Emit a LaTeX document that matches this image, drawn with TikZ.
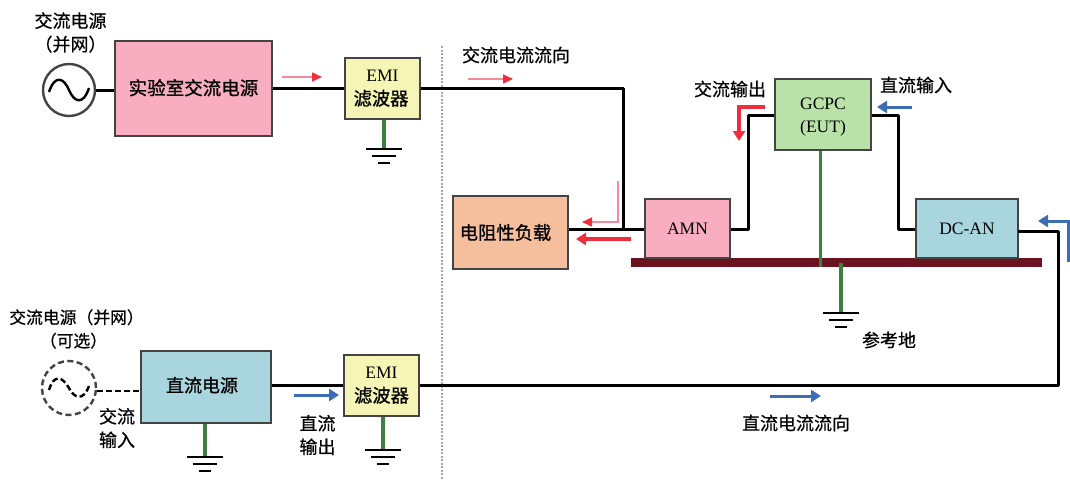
\documentclass[tikz,border=0pt]{standalone}
\usepackage{fontspec}
\setmainfont{Liberation Serif}
\newfontfamily\cjk[FakeBold=0.6]{Noto Sans CJK SC}
\newfontfamily\cjkb[FakeBold=1]{Noto Sans CJK SC}
\usetikzlibrary{arrows.meta}
\definecolor{cPink}{HTML}{F8AEC0}
\definecolor{cYel}{HTML}{F5F5B5}
\definecolor{cGreen}{HTML}{B9E2A8}
\definecolor{cTeal}{HTML}{A8D5DE}
\definecolor{cOrange}{HTML}{F5BE9C}
\definecolor{cPlate}{HTML}{6B1420}
\definecolor{cStem}{HTML}{3F8040}
\definecolor{cRed}{HTML}{EE2E3C}
\definecolor{cPinkLine}{HTML}{F48A9A}
\definecolor{cBlue}{HTML}{3D6DB5}
\definecolor{cEdge}{HTML}{444444}
\tikzset{
  blk/.style={draw=cEdge,line width=1.5pt,inner sep=0pt,align=center,font=\fontsize{17.5}{23.5}\selectfont},
  lbl/.style={inner sep=0pt,align=center,font=\cjk\fontsize{18}{23.5}\selectfont},
  wire/.style={line width=3pt,draw=black,line join=round},
  dwire/.style={line width=2.6pt,draw=black,dash pattern=on 6pt off 3pt},
  stem/.style={line width=3.8pt,draw=cStem},
  gline/.style={line width=1.8pt,draw=black},
  parr/.style={line width=1.6pt,draw=cPinkLine,-{Triangle[length=10pt,width=9pt,color=cRed]}},
  rarr/.style={line width=3.4pt,draw=cRed,line join=miter,-{Triangle[length=10pt,width=12pt]}},
  barr/.style={line width=3pt,draw=cBlue,line join=miter,-{Triangle[length=10pt,width=12pt]}},
  gnd/.pic={
    \draw[gline] (-18,0)--(18,0);
    \draw[gline] (-12,7)--(12,7);
    \draw[gline] (-6,14)--(6,14);
  },
  sinewave/.style={line width=2.4pt,draw=black},
}
\begin{document}
\begin{tikzpicture}[x=1pt,y=-1pt]
\useasboundingbox (0,0) rectangle (1070,479);
% divider
\coordinate (divT) at (442,46);
\coordinate (divB) at (442,479);
\draw[line width=2.2pt,draw=black!35,dash pattern=on 2pt off 1.5pt] (divT)--(divB);
% plate
\node[fill=cPlate,inner sep=0pt,minimum width=411pt,minimum height=9pt] (plate) at (836.5,262.5) {};
% blocks
\node[blk,circle,line width=2.4pt,minimum size=52pt] (ac1) at (69,90) {};
\node[blk,fill=cPink,minimum width=157pt,minimum height=95pt,font=\cjkb\fontsize{18.5}{20}\selectfont] (lab) at (193.5,88.5) {\raisebox{3pt}{实验室交流电源}};
\node[blk,fill=cYel,minimum width=75pt,minimum height=61pt] (emi1) at (382.5,88.5) {EMI\\{\cjkb\fontsize{18.3}{20}\selectfont 滤波器\kern3pt}};
\node[blk,fill=cOrange,minimum width=115pt,minimum height=73pt,font=\cjkb\fontsize{18.3}{20}\selectfont] (load) at (510.5,232.5) {\raisebox{-4pt}{电阻性负载}\kern10pt};
\node[blk,fill=cPink,minimum width=85pt,minimum height=59pt] (amn) at (687.5,228.5) {AMN};
\node[blk,fill=cGreen,minimum width=96pt,minimum height=71pt] (eut) at (823,114.5) {\raisebox{-3pt}[\height][\depth]{GCPC}\\\raisebox{-2pt}[\height][\depth]{(EUT)}};
\node[blk,fill=cTeal,minimum width=102pt,minimum height=59pt] (dcan) at (967,228.5) {\raisebox{-3pt}{DC-AN}};
\node[blk,circle,line width=2.4pt,dash pattern=on 6pt off 3.5pt,minimum size=54pt] (ac2) at (69,388) {};
\node[blk,fill=cTeal,minimum width=130pt,minimum height=72pt,font=\cjkb\fontsize{18}{20}\selectfont] (dcs) at (206,387) {\raisebox{5pt}{直流电源}\kern8pt};
\node[blk,fill=cYel,minimum width=75pt,minimum height=61pt] (emi2) at (381.5,385.5) {EMI\\{\cjkb\fontsize{18.3}{20}\selectfont 滤波器\kern0pt}};
% sine waves
\draw[sinewave] (49,92) .. controls (55,74) and (64,78) .. (69,90) .. controls (74,102) and (83,106) .. (89,88);
\draw[sinewave,dash pattern=on 6pt off 3pt] (49,390) .. controls (54,374) and (62,376) .. (69,388) .. controls (74,398) and (83,402) .. (89,386);
% wires
\coordinate (w1a) at (623,88.5);
\coordinate (w1b) at (623,229.5);
\coordinate (w2a) at (748,229.5);
\coordinate (w2b) at (748,115);
\coordinate (w3a) at (898,115);
\coordinate (w3b) at (898,229.5);
\coordinate (w4s) at (1018,231);
\coordinate (w4a) at (1058,231);
\coordinate (w4b) at (1058,385);
\draw[wire] (ac1.east)--(ac1.east -| lab.west);
\draw[wire] (lab.east)--(emi1.west);
\draw[wire] (emi1.east)--(w1a)--(w1b);
\draw[wire] (load.east |- w1b)--(amn.west |- w1b);
\draw[wire] (amn.east |- w2a)--(w2a)--(w2b)--(eut.west |- w2b);
\draw[wire] (eut.east |- w3a)--(w3a)--(w3b)--(dcan.west |- w3b);
\draw[wire] (w4s)--(w4a)--(w4b)--(emi2.east |- w4b);
\draw[dwire] (ac2.east |- 0,391)--(dcs.west |- 0,391);
\draw[wire] (dcs.east |- 0,385.5)--(emi2.west |- 0,385.5);
% green stems and grounds
\coordinate (g1) at (384,149);
\coordinate (g2) at (820.5,267);
\coordinate (g3) at (841,313);
\coordinate (g4) at (205,457);
\coordinate (g5) at (383,450);
\draw[stem] (g1 |- emi1.south)--(g1);
\draw[stem] (g2 |- eut.south)--(g2);
\draw[stem] (g3 |- plate.center)--(g3);
\draw[stem] (g4 |- dcs.south)--(g4);
\draw[stem] (g5 |- emi2.south)--(g5);
\pic at (g1) {gnd};
\pic at (g3) {gnd};
\pic at (g4) {gnd};
\pic at (g5) {gnd};
% current arrows
\coordinate (a1s) at (282,77); \coordinate (a1e) at (322,77);
\coordinate (a2s) at (468,79); \coordinate (a2e) at (513,79);
\coordinate (a3s) at (618,181); \coordinate (a3m) at (618,222); \coordinate (a3e) at (582,222);
\coordinate (a4s) at (631,239); \coordinate (a4e) at (576,239);
\coordinate (a5s) at (765,107); \coordinate (a5m) at (739,107); \coordinate (a5e) at (739,141);
\coordinate (a6s) at (912,107); \coordinate (a6e) at (877,107);
\coordinate (a7s) at (1068,262); \coordinate (a7m) at (1068,221); \coordinate (a7e) at (1038,221);
\coordinate (a8s) at (294,395); \coordinate (a8e) at (339,395);
\coordinate (a9s) at (770,396); \coordinate (a9e) at (821,396);
\draw[parr] (a1s)--(a1e);
\draw[parr] (a2s)--(a2e);
\draw[parr] (a3s)--(a3m)--(a3e);
\draw[rarr] (a4s)--(a4e);
\draw[rarr] (a5s)--(a5m)--(a5e);
\draw[barr] (a6s)--(a6e);
\draw[barr] (a7s)--(a7m)--(a7e);
\draw[barr] (a8s)--(a8e);
\draw[barr] (a9s)--(a9e);
% labels
\node[lbl] (t1) at (70.5,32.5) {交流电源\\（并网）};
\node[lbl] (t2) at (516,55) {交流电流流向};
\node[lbl] (t3) at (730,89) {交流输出};
\node[lbl] (t4) at (916,85) {直流输入};
\node[lbl] (t5) at (889,340) {参考地};
\node[lbl,font=\cjk\fontsize{16.8}{23.5}\selectfont] (t6) at (76.5,329) {交流电源（并网）\\（可选）\kern6pt};
\node[lbl] (t7) at (117,428) {交流\\输入};
\node[lbl] (t8) at (317.5,435) {直流\\输出};
\node[lbl] (t9) at (796,423) {直流电流流向};
\end{tikzpicture}
\end{document}
